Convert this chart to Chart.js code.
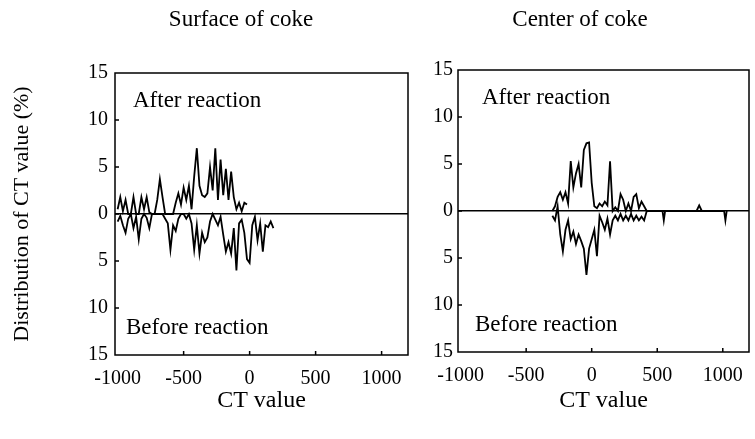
<!DOCTYPE html>
<html>
<head>
<meta charset="utf-8">
<script src="https://cdn.jsdelivr.net/npm/chart.js@4.4.1/dist/chart.umd.min.js"></script>
<style>
  body { margin: 0; background: #fff; }
  #wrap { position: relative; width: 755px; height: 439px; }
  canvas { position: absolute; top: 0; }
</style>
</head>
<body>
<div id="wrap">
  <canvas id="surfaceChart" width="425" height="439" style="left:0"></canvas>
  <canvas id="centerChart" width="330" height="439" style="left:425px"></canvas>
</div>
<script>
// tick positions
const xTickValues = [-1000, -500, 0, 500, 1000];
const yTickValues = [-15, -10, -5, 0, 5, 10, 15];

// surface of coke, after reaction (plotted upward)
const surfaceAfterCT = [-1000, -980, -960, -940, -920, -900, -880, -860, -840, -820,
  -800, -780, -760, -740, -720, -700, -680, -660, -640, -620,
  -600, -580, -560, -540, -520, -500, -480, -460, -440, -420,
  -400, -380, -360, -340, -320, -300, -280, -260, -240, -220,
  -200, -180, -160, -140, -120, -100, -80, -60, -40, -20];
const surfaceAfterPct = [0.5, 1.8, 0.3, 1.5, 0, 0, 1.8, 0, 0, 1.8,
  0.5, 1.8, 0.2, 0, 0, 1.5, 3.7, 1.8, 0, 0,
  0, 0, 1.2, 2.2, 1.0, 2.8, 1.5, 3.0, 0.5, 4.0,
  7.0, 3.0, 2.0, 1.8, 2.2, 5.0, 2.5, 7.0, 1.5, 5.8,
  2.0, 4.8, 1.5, 4.5, 1.8, 0.5, 1.2, 0.3, 1.2, 1.0];

// surface of coke, before reaction (plotted downward)
const surfaceBeforeCT = [-1000, -980, -960, -940, -920, -900, -880, -860, -840, -820,
  -800, -780, -760, -740, -720, -700, -680, -660, -640, -620,
  -600, -580, -560, -540, -520, -500, -480, -460, -440, -420,
  -400, -380, -360, -340, -320, -300, -280, -260, -240, -220,
  -200, -180, -160, -140, -120, -100, -80, -60, -40, -20,
  0, 20, 40, 60, 80, 100, 120, 140, 160, 180];
const surfaceBeforePct = [-0.8, -0.2, -1.2, -2.0, -0.5, 0, -1.5, -0.3, -2.7, -0.5,
  0, -0.4, -1.5, 0, 0, 0, 0, 0, -0.5, -1.0,
  -3.8, -1.2, -1.8, -0.5, 0, 0, -0.5, 0, -1.0, -3.8,
  -1.2, -4.2, -2.0, -3.0, -2.5, -0.8, 0, -0.6, -1.2, -0.3,
  -2.2, -4.0, -3.0, -4.2, -1.5, -6.0, -1.0, -0.6, -2.0, -4.8,
  -5.2, -1.2, -0.3, -2.8, -1.0, -4.0, -1.2, -1.4, -0.8, -1.5];

// center of coke, after reaction
const centerAfterCT = [-300, -280, -260, -240, -220, -200, -180, -160, -140, -120,
  -100, -80, -60, -40, -20, 0, 20, 40, 60, 80,
  100, 120, 140, 160, 180, 200, 220, 240, 260, 280,
  300, 320, 340, 360, 380, 400, 420, 800, 820, 840];
const centerAfterPct = [0, 0.5, 1.5, 2.0, 1.2, 2.0, 0.8, 5.3, 2.5, 4.0,
  5.0, 2.5, 6.5, 7.2, 7.3, 3.0, 0.5, 0.3, 0.8, 0.5,
  1.0, 0.6, 5.3, 0, 0.4, 0, 1.8, 1.2, 0, 0.8,
  0, 1.5, 1.8, 0.3, 1.0, 0.5, 0, 0, 0.6, 0];

// center of coke, before reaction
const centerBeforeCT = [-300, -280, -260, -240, -220, -200, -180, -160, -140, -120,
  -100, -80, -60, -40, -20, 0, 20, 40, 60, 80,
  100, 120, 140, 160, 180, 200, 220, 240, 260, 280,
  300, 320, 340, 360, 380, 400, 420, 540, 550, 560, 1010, 1020, 1030];
const centerBeforePct = [-0.5, -1.0, 0.5, -2.5, -4.3, -2.0, -1.0, -3.0, -2.2, -3.5,
  -2.5, -3.2, -4.0, -6.8, -4.0, -3.0, -2.0, -4.8, -0.5, -1.2,
  -2.0, -0.8, -2.5, -1.0, -0.5, -1.0, -0.3, -1.0, -0.5, -1.0,
  -0.3, -1.0, -0.5, -1.0, -0.6, -1.0, 0, 0, -1.0, 0, 0, -1.0, 0];

Chart.defaults.font.family = '"Liberation Serif", "Times New Roman", serif';
Chart.defaults.color = '#000';

function toPoints(xs, ys) {
    return xs.map((x, i) => ({ x: x, y: ys[i] }));
}

// box, inward tick marks and the text inside the panel
const panelDecor = {
    id: 'panelDecor',
    afterDatasetsDraw(chart, args, opts) {
        const { ctx, chartArea: a, scales } = chart;
        ctx.save();
        ctx.strokeStyle = '#000';
        ctx.lineWidth = 1.5;
        ctx.strokeRect(a.left, a.top, a.right - a.left, a.bottom - a.top);

        ctx.beginPath();
        xTickValues.forEach(v => {
            const px = scales.x.getPixelForValue(v);
            if (px > a.left + 3 && px < a.right - 3) {
                ctx.moveTo(px, a.bottom);
                ctx.lineTo(px, a.bottom - 4);
            }
        });
        yTickValues.forEach(v => {
            const py = scales.y.getPixelForValue(v);
            if (py > a.top + 3 && py < a.bottom - 3) {
                ctx.moveTo(a.left, py);
                ctx.lineTo(a.left + 4, py);
            }
        });
        ctx.stroke();

        ctx.fillStyle = '#000';
        ctx.font = '23px "Liberation Serif"';
        ctx.textBaseline = 'middle';
        ctx.textAlign = 'left';
        ctx.fillText('After reaction', a.left + opts.afterX, a.top + 28);
        ctx.fillText('Before reaction', a.left + opts.beforeX, a.bottom - 27);
        ctx.textAlign = 'center';
        ctx.fillText(opts.title, opts.titleX, 20);
        ctx.restore();
    }
};

function makePanel(canvasId, title, afterPts, beforePts, cfg) {
    const canvas = document.getElementById(canvasId);
    return new Chart(canvas, {
        type: 'line',
        data: {
            datasets: [
                { label: 'After reaction', data: afterPts },
                { label: 'Before reaction', data: beforePts },
            ],
        },
        options: {
            responsive: false,
            animation: false,
            layout: { padding: { top: cfg.top, right: cfg.right, left: 0, bottom: 0 } },
            elements: {
                line: { borderColor: '#000', borderWidth: 1.8, tension: 0 },
                point: { radius: 0 },
            },
            plugins: {
                legend: { display: false },
                tooltip: { enabled: false },
                panelDecor: { title: title, titleX: cfg.titleX, afterX: cfg.afterX, beforeX: cfg.beforeX },
            },
            scales: {
                x: {
                    type: 'linear',
                    min: -1020,
                    max: 1200,
                    afterBuildTicks: s => { s.ticks = xTickValues.map(v => ({ value: v })); },
                    afterFit: s => { s.height = cfg.xHeight; },
                    grid: { display: false },
                    border: { display: false },
                    ticks: {
                        font: { size: 20 },
                        padding: 4,
                        maxRotation: 0,
                        autoSkip: false,
                        callback: v => String(v),
                    },
                    title: {
                        display: true,
                        text: 'CT value',
                        font: { size: 24 },
                        padding: { top: 0, bottom: 24 },
                    },
                },
                y: {
                    type: 'linear',
                    min: -15,
                    max: 15,
                    afterBuildTicks: s => { s.ticks = yTickValues.map(v => ({ value: v })); },
                    afterFit: s => { s.width = cfg.yWidth; },
                    grid: {
                        drawTicks: false,
                        lineWidth: 1.5,
                        color: c => (c.tick && c.tick.value === 0 ? '#000' : 'rgba(0,0,0,0)'),
                    },
                    border: { display: false },
                    ticks: {
                        font: { size: 20 },
                        padding: cfg.yPad,
                        callback: v => String(Math.abs(v)),
                    },
                    title: {
                        display: cfg.yTitle,
                        text: 'Distribution of CT value (%)',
                        font: { size: 22 },
                        padding: { top: 9, bottom: 0 },
                    },
                },
            },
        },
        plugins: [panelDecor],
    });
}

const surfaceChart = makePanel('surfaceChart', 'Surface of coke',
    toPoints(surfaceAfterCT, surfaceAfterPct), toPoints(surfaceBeforeCT, surfaceBeforePct),
    { top: 73, right: 17, xHeight: 84, yWidth: 115, yPad: 7, yTitle: true, titleX: 241, afterX: 18, beforeX: 11 });

const centerChart = makePanel('centerChart', 'Center of coke',
    toPoints(centerAfterCT, centerAfterPct), toPoints(centerBeforeCT, centerBeforePct),
    { top: 70, right: 6, xHeight: 87, yWidth: 33, yPad: 5, yTitle: false, titleX: 155, afterX: 24, beforeX: 17 });
</script>
</body>
</html>
